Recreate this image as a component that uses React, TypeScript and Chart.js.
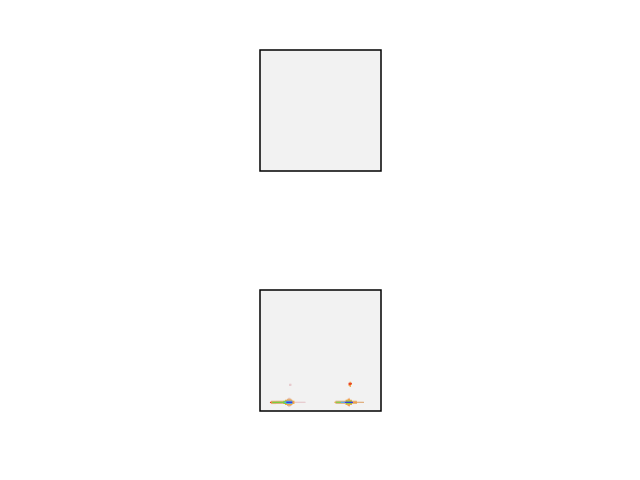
import React, { useEffect, useRef } from "react";
import { Chart, registerables } from "chart.js";

Chart.register(...registerables);

// Density levels → colours
const levelColors = ["#e6c8cc", "#f0a040", "#e83a20", "#7ccc3c", "#4aa8e8", "#2a32e0", "#e0b080"];

// Runs of cells in the lower panel: [row, xStart, xEnd, level]
const lowerRuns: number[][] = [
  // left cluster
  [8, 10, 10, 2], [8, 11, 11, 1], [8, 12, 23, 3], [8, 24, 25, 4], [8, 26, 31, 5], [8, 32, 33, 1], [8, 34, 44, 0],
  [9, 11, 22, 6], [7, 11, 22, 6], [9, 23, 25, 3], [7, 23, 25, 3], [9, 26, 31, 4], [7, 26, 31, 4], [9, 32, 33, 1], [7, 32, 33, 1],
  [10, 25, 31, 1], [6, 25, 31, 1], [11, 27, 30, 6], [5, 27, 30, 6], [12, 28, 29, 0], [4, 28, 29, 0],
  // right cluster
  [8, 74, 74, 1], [8, 75, 79, 3], [8, 80, 83, 4], [8, 84, 91, 5], [8, 92, 95, 1], [8, 96, 102, 6],
  [9, 75, 84, 6], [7, 75, 84, 6], [9, 85, 90, 3], [7, 85, 90, 3], [9, 91, 95, 6], [7, 91, 95, 6],
  [10, 85, 90, 1], [6, 85, 90, 1], [11, 87, 88, 1], [5, 87, 88, 1], [12, 88, 88, 0], [4, 88, 88, 0],
  // isolated points
  [26, 29, 30, 0], [25, 29, 30, 0],
  [28, 89, 89, 1], [27, 88, 90, 2], [26, 88, 89, 2], [26, 90, 90, 1], [25, 88, 89, 1], [24, 89, 89, 1],
];

const axisMin = 0;
const axisMax = 120;

function expand(runs: number[][]) {
  const pts: { x: number; y: number }[] = [];
  const cols: string[] = [];
  // outer cells first so the dense core is painted on top
  const ordered = [...runs].reverse();
  ordered.forEach(([row, x0, x1, lvl]) => {
    for (let x = x0; x <= x1; x++) {
      pts.push({ x: x + 0.5, y: row + 0.5 });
      cols.push(levelColors[lvl]);
    }
  });
  return { pts, cols };
}

const panelPlugin = {
  id: "panel",
  beforeDraw(chart: any) {
    const { ctx, chartArea: a } = chart;
    ctx.save();
    ctx.fillStyle = "#f2f2f2";
    ctx.fillRect(a.left, a.top, a.right - a.left, a.bottom - a.top);
    ctx.restore();
  },
  afterDraw(chart: any) {
    const { ctx, chartArea: a } = chart;
    ctx.save();
    ctx.strokeStyle = "#000";
    ctx.lineWidth = 1.5;
    ctx.strokeRect(a.left, a.top, a.right - a.left, a.bottom - a.top);
    ctx.restore();
  },
};

function Panel({ top, runs }: { top: number; runs: number[][] }) {
  const ref = useRef<HTMLCanvasElement>(null);
  useEffect(() => {
    if (!ref.current) return;
    const { pts, cols } = expand(runs);
    const chart = new Chart(ref.current, {
      type: "scatter",
      data: {
        datasets: [
          {
            data: pts,
            pointStyle: "rect",
            pointRadius: 0.9,
            pointBorderWidth: 0,
            pointBackgroundColor: cols,
            pointHoverRadius: 0.9,
          },
        ],
      },
      options: {
        animation: false,
        responsive: false,
        events: [],
        layout: { padding: { left: 260, right: 259, top, bottom: 480 - top - 121 } },
        plugins: { legend: { display: false }, tooltip: { enabled: false } },
        scales: {
          x: { type: "linear", display: false, min: axisMin, max: axisMax },
          y: { type: "linear", display: false, min: axisMin, max: axisMax },
        },
      },
      plugins: [panelPlugin],
    });
    return () => chart.destroy();
  }, []);
  return (
    <canvas
      ref={ref}
      width={640}
      height={480}
      style={{ position: "absolute", left: 0, top: 0, width: 640, height: 480 }}
    />
  );
}

export default function App() {
  return (
    <div style={{ position: "fixed", left: 0, top: 0, width: 640, height: 480, background: "#fff" }}>
      <Panel top={50} runs={[]} />
      <Panel top={290} runs={lowerRuns} />
    </div>
  );
}
